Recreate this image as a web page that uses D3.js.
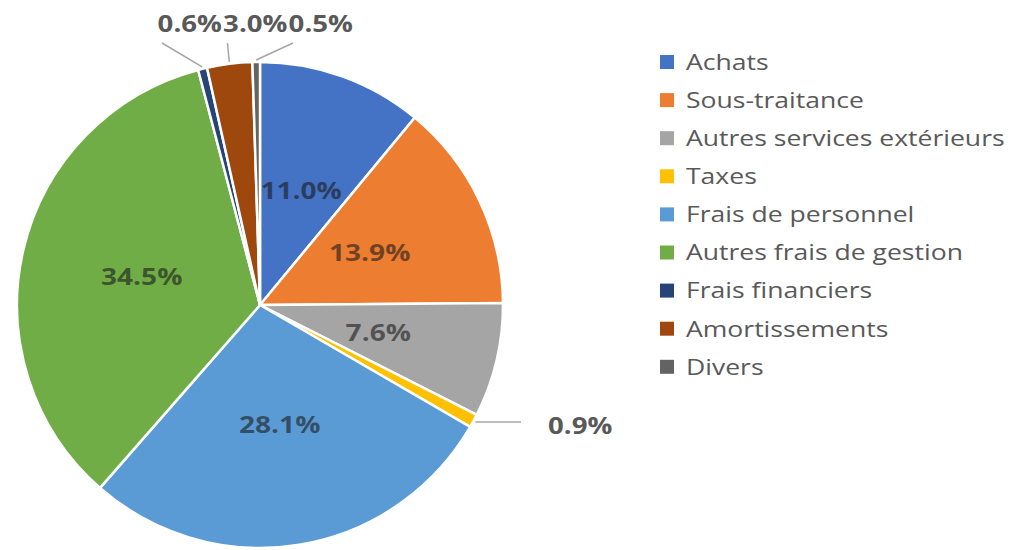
<!DOCTYPE html>
<meta charset="utf-8">
<style>
body { margin: 0; background: #fff; }
text { font-family: "Open Sans", "Noto Sans", sans-serif; }
</style>
<svg width="1014" height="550"></svg>
<script src="https://d3js.org/d3.v7.min.js"></script>
<script>

var categories = ["Achats", "Sous-traitance", "Autres services extérieurs", "Taxes",
    "Frais de personnel", "Autres frais de gestion", "Frais financiers", "Amortissements", "Divers"];
var values = [11.0, 13.9, 7.6, 0.9, 28.1, 34.5, 0.6, 3.0, 0.5];
var colors = ["#4472C4", "#ED7D31", "#A5A5A5", "#FFC000", "#5B9BD5", "#70AD47", "#264478", "#9E480E", "#636363"];

var svg = d3.select("svg"),
    cx = 260, cy = 305, r = 243;

var g = svg.append("g").attr("transform", "translate(" + cx + "," + cy + ")");

var pie = d3.pie().sort(null).value(function(d) { return d; });
var arcs = pie(values);

var arc = d3.arc().innerRadius(0).outerRadius(r);
var labelArc = d3.arc().innerRadius(r * 0.5).outerRadius(r * 0.5);

g.selectAll("path")
  .data(arcs)
  .enter().append("path")
    .attr("d", arc)
    .attr("fill", function(d, i) { return colors[i]; })
    .attr("stroke", "#fff")
    .attr("stroke-width", 2.5);

var fmt = function(v) { return v.toFixed(1) + "%"; };

// big slices: label inside
g.selectAll("text.in")
  .data(arcs.filter(function(d) { return d.value >= 5; }))
  .enter().append("text")
    .attr("class", "in")
    .attr("transform", function(d) { return "translate(" + labelArc.centroid(d) + ") scale(1.22,1)"; })
    .attr("text-anchor", "middle")
    .attr("dy", "0.35em")
    .attr("fill", "#1a1a1a")
    .attr("fill-opacity", 0.6)
    .attr("font-weight", "bold")
    .attr("font-size", 23)
    .text(function(d) { return fmt(d.value); });

// small slices: label outside with leader line
function edge(d, rr) {
  var a = (d.startAngle + d.endAngle) / 2;
  return [rr * Math.sin(a), -rr * Math.cos(a)];
}

var small = arcs.filter(function(d) { return d.value < 5; });
var upper = small.filter(function(d) { return (d.startAngle + d.endAngle) / 2 > Math.PI * 1.5; });
var right = small.filter(function(d) { return (d.startAngle + d.endAngle) / 2 <= Math.PI * 1.5; });

var labW = 65.5, topY = -r - 38;
upper.forEach(function(d, i) {
  var x0 = -103 + i * labW;
  var p = edge(d, r + 2);
  g.append("line")
      .attr("x1", p[0]).attr("y1", p[1])
      .attr("x2", x0 + 5).attr("y2", topY + 19)
      .attr("stroke", "#A6A6A6").attr("stroke-width", 1.5);
  g.append("text")
      .attr("transform", "translate(" + (x0 + labW / 2) + "," + topY + ") scale(1.2,1)")
      .attr("text-anchor", "middle")
      .attr("dy", "0.35em")
      .attr("fill", "#595959")
      .attr("font-weight", "bold")
      .attr("font-size", 23)
      .text(fmt(d.value));
});

right.forEach(function(d) {
  var p = edge(d, r + 2);
  g.append("line")
      .attr("x1", p[0]).attr("y1", p[1])
      .attr("x2", r + 18).attr("y2", p[1])
      .attr("stroke", "#A6A6A6").attr("stroke-width", 1.5);
  g.append("text")
      .attr("transform", "translate(" + (r + 45) + "," + (p[1] + 4) + ") scale(1.2,1)")
      .attr("dy", "0.35em")
      .attr("fill", "#595959")
      .attr("font-weight", "bold")
      .attr("font-size", 23)
      .text(fmt(d.value));
});

// legend
var legend = svg.append("g").attr("transform", "translate(660,62)");
var row = legend.selectAll("g")
  .data(categories)
  .enter().append("g")
    .attr("transform", function(d, i) { return "translate(0," + i * 38.1 + ")"; });

row.append("rect")
    .attr("y", -7)
    .attr("width", 14).attr("height", 14)
    .attr("fill", function(d, i) { return colors[i]; });

row.append("text")
    .attr("transform", "translate(26,0) scale(1.18,1)")
    .attr("dy", "0.35em")
    .attr("fill", "#595959")
    .attr("font-size", 22.5)
    .text(function(d) { return d; });

</script>
